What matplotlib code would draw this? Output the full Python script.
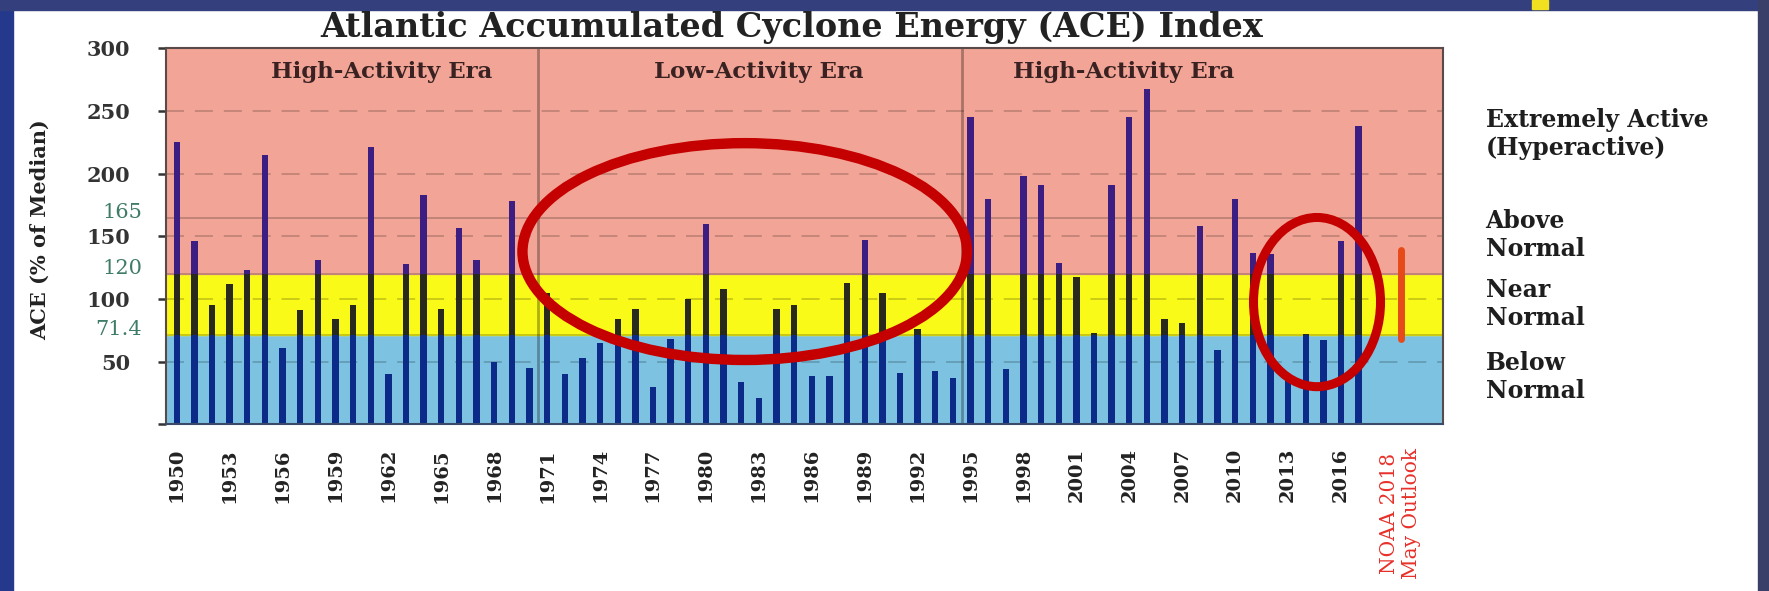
import numpy as np
import matplotlib.pyplot as plt
from matplotlib.patches import Ellipse, Rectangle
from matplotlib.transforms import blended_transform_factory

# ACE 数据 (% of Median), 1950-2017
years = np.arange(1950, 2018)
ace = [225, 146, 95, 112, 123, 215, 61, 91, 131, 84,
       95, 221, 40, 128, 183, 92, 157, 131, 50, 178,
       45, 105, 40, 53, 65, 84, 92, 30, 68, 100,
       160, 108, 34, 21, 92, 95, 39, 39, 113, 147,
       105, 41, 76, 43, 37, 245, 180, 44, 198, 191,
       129, 118, 73, 191, 245, 268, 84, 81, 158, 59,
       180, 137, 136, 36, 72, 67, 146, 238]
ace = np.array(ace, dtype=float)

# NOAA 2018 May outlook range
outlook_low, outlook_high = 68, 139
outlook_label = 'NOAA 2018\nMay Outlook'

# 分级阈值
below_top = 71.4
near_top = 120
above_top = 165
thresh_labels = ['165', '120', '71.4']
thresh_values = [above_top, near_top, below_top]

era_names = ['High-Activity Era', 'Low-Activity Era', 'High-Activity Era']
era_breaks = [1970.5, 1994.5]

class_names = ['Extremely Active\n(Hyperactive)', 'Above\nNormal', 'Near\nNormal', 'Below\nNormal']

plt.rcParams['font.family'] = ['DejaVu Serif']

fig = plt.figure(figsize=(17.69, 5.91), dpi=100)
fig.patch.set_facecolor('white')

# 幻灯片边框
fig.add_artist(Rectangle((0, 0), 13 / 1769, 1, transform=fig.transFigure, color='#24388c', zorder=0))
fig.add_artist(Rectangle((0, 1 - 10 / 591), 1, 10 / 591, transform=fig.transFigure, color='#34407e', zorder=0))
fig.add_artist(Rectangle((1 - 11 / 1769, 0), 11 / 1769, 1, transform=fig.transFigure, color='#3a3f6a', zorder=0))
fig.add_artist(Rectangle((1532 / 1769, 1 - 9 / 591), 16 / 1769, 9 / 591, transform=fig.transFigure, color='#f0e020', zorder=1))

ax = fig.add_axes([0.0941, 0.2819, 0.7216, 0.6362])
ax.set_xlim(1949.42, 2021.78)
ax.set_ylim(0, 300)

# 背景色带
ax.axhspan(0, below_top, color='#7dc3e1', zorder=0)
ax.axhspan(below_top, near_top, color='#fafa18', zorder=0)
ax.axhspan(near_top, 300, color='#f2a596', zorder=0)

for yv in [50, 100, 150, 200, 250]:
    ax.axhline(yv, color='black', alpha=0.2, lw=1.3, dashes=(10, 6), zorder=1)
for yv in thresh_values:
    ax.axhline(yv, color='black', alpha=0.2, lw=1.4, zorder=1)
for xv in era_breaks:
    ax.axvline(xv, color='black', alpha=0.3, lw=2, zorder=1)

# 柱子按色带分段着色
w = 0.36
low = np.minimum(ace, below_top)
mid = np.clip(ace - below_top, 0, near_top - below_top)
high = np.maximum(ace - near_top, 0)
ax.bar(years, low, w, color='#0c2a88', zorder=2)
ax.bar(years, mid, w, bottom=below_top, color='#2a2a1c', zorder=2)
ax.bar(years, high, w, bottom=near_top, color='#3c1e82', zorder=2)

outlook_x = 2019.4
ax.vlines(outlook_x, outlook_low, outlook_high, colors='#e64a19', linewidths=5, capstyle='round', zorder=3)

# 红色圈
ax.add_patch(Ellipse((1982.2, 137.9), 25.2, 173, fill=False, edgecolor='#c40000', lw=7.5, zorder=5, clip_on=False))
ax.add_patch(Ellipse((2014.64, 97.6), 7.2, 135, fill=False, edgecolor='#c40000', lw=6.5, zorder=5, clip_on=False))

# 年代标注
for name, xv in zip(era_names, [1961.6, 1983.0, 2003.7]):
    ax.text(xv, 276, name, ha='center', va='baseline', fontsize=16.5, fontweight='bold', color='#3a2222', zorder=4)

# 坐标轴
ax.set_yticks([0, 50, 100, 150, 200, 250, 300])
ax.set_yticklabels(['', '50', '100', '150', '200', '250', '300'])
ax.tick_params(axis='y', direction='out', length=6, width=1.8, pad=20, labelsize=15, colors='#333333')
for t in ax.get_yticklabels():
    t.set_fontweight('bold')

tick_years = list(years[::3])
ax.set_xticks(tick_years + [outlook_x])
ax.set_xticklabels([str(y) for y in tick_years] + [outlook_label], rotation=90)
ax.tick_params(axis='x', length=0, pad=17, labelsize=14)
for t in ax.get_xticklabels()[:-1]:
    t.set_fontweight('bold')
    t.set_color('#222222')
last = ax.get_xticklabels()[-1]
last.set_color('#e8302a')
last.set_fontsize(14.5)

for s in ax.spines.values():
    s.set_color('#5b4a4a')
    s.set_linewidth(1.5)
ax.spines['bottom'].set_color('#3c4a6a')

# 阈值数值 (绿色)
ytrans = ax.get_yaxis_transform()
for lab, yv in zip(thresh_labels, thresh_values):
    ax.annotate(lab, (-0.0192, yv), xycoords=ytrans, xytext=(0, 4), textcoords='offset points',
                ha='right', va='center', fontsize=15, color='#3f7c66', annotation_clip=False)

fig.text(0.0226, 0.611, 'ACE (% of Median)', rotation=90, ha='center', va='center',
         fontsize=15, fontweight='bold', color='#222222')

fig.text(0.4477, 0.9368, 'Atlantic Accumulated Cyclone Energy (ACE) Index', ha='center', va='baseline',
         fontsize=24, fontweight='bold', color='#222222')

# 右侧分级说明
rtrans = blended_transform_factory(fig.transFigure, ax.transData)
for name, yv in zip(class_names, [231.6, 151, 96, 38]):
    ax.text(0.8398, yv, name, transform=rtrans, ha='left', va='center', fontsize=17,
            fontweight='bold', color='#1e1e1e', clip_on=False)

plt.savefig('out.png', dpi=100)
